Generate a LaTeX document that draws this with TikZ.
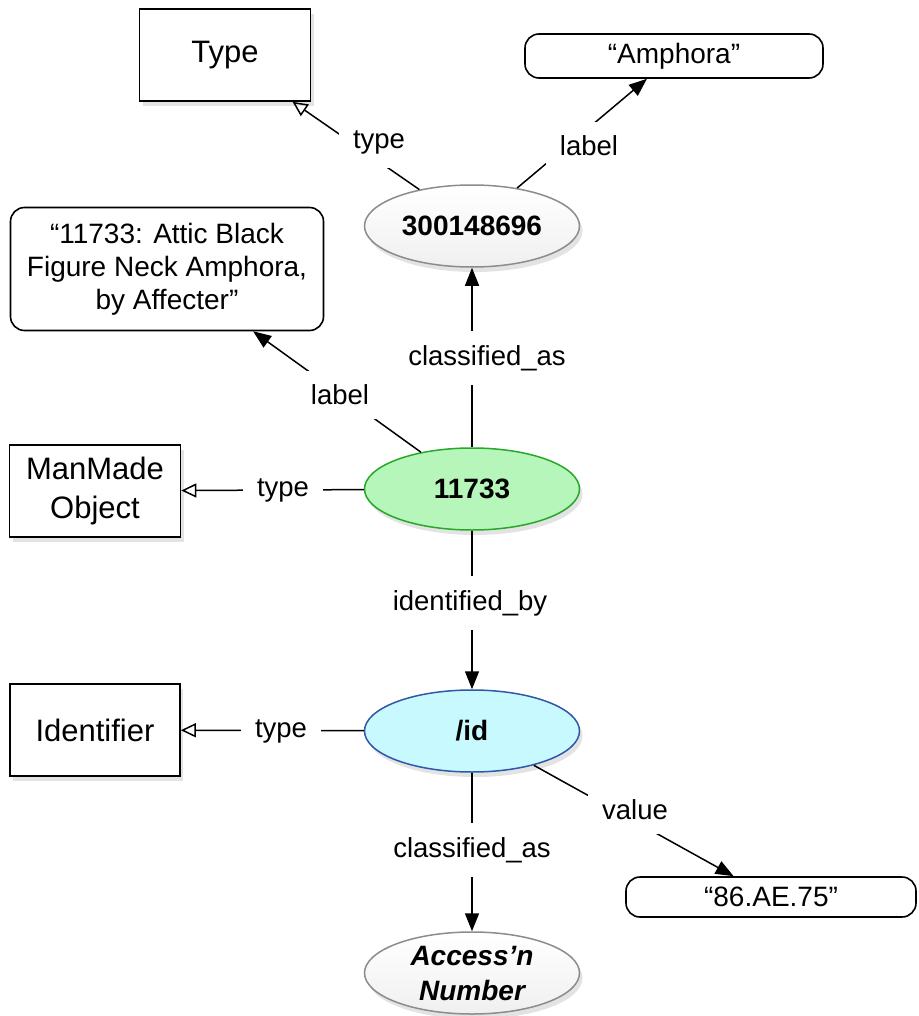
\documentclass[tikz,border=0pt]{standalone}
\usepackage{fontspec}
\setmainfont{Liberation Sans}
\usetikzlibrary{shapes.geometric,arrows.meta,shadows}
\definecolor{greenfill}{RGB}{182,246,186}
\definecolor{greenline}{RGB}{40,168,40}
\definecolor{cyanfill}{RGB}{200,249,255}
\definecolor{blueline}{RGB}{48,88,168}
\definecolor{grayline}{RGB}{140,140,140}
\begin{document}
\begin{tikzpicture}[x=1pt,y=-1pt,
  shad/.style={drop shadow={opacity=0.22, shadow xshift=3pt, shadow yshift=-5pt}},
  cls/.style={draw=black, line width=1.6pt, fill=white, shad, minimum width=171pt, minimum height=92pt, inner sep=0pt, align=center, font=\fontsize{31}{39}\selectfont},
  lit/.style={draw=black, line width=1.6pt, fill=white, rounded corners=14pt, inner sep=0pt, align=center, font=\fontsize{28}{33}\selectfont},
  res/.style={ellipse, minimum width=215pt, minimum height=82pt, inner sep=0pt, line width=1.5pt, align=center, shad, font=\bfseries\fontsize{28}{35}\selectfont},
  plainres/.style={res, draw=grayline, top color=white, bottom color=black!6},
  lbl/.style={fill=white, inner sep=14pt, font=\fontsize{27.5}{30}\selectfont},
  edge/.style={line width=1.5pt},
  arr/.style={edge, -{Triangle[length=18pt,width=14pt]}},
  tarr/.style={edge, -{Triangle[open,length=15pt,width=14pt,line width=1.5pt]}}
]
\useasboundingbox[fill=white] (0,0) rectangle (918,1016);

% nodes
\node[cls] (type) at (225,55) {Type};
\node[lit, minimum width=298pt, minimum height=44pt] (amph) at (674,56) {“Amphora”};
\node[plainres] (e300) at (472,226) {300148696};
\node[lit, minimum width=313pt, minimum height=123pt] (lbox) at (167,269) {“11733: Attic Black\\Figure Neck Amphora,\\by Affecter”};
\node[res, draw=greenline, fill=greenfill] (obj) at (472,489) {11733};
\node[cls, minimum width=171pt] (mmo) at (95,491) {ManMade\\Object};
\node[res, draw=blueline, fill=cyanfill] (id) at (472,731) {/id};
\node[cls, minimum width=170pt] (ident) at (95,730) {Identifier};
\node[lit, minimum width=290pt, minimum height=40pt] (val) at (771,897) {“86.AE.75”};
\node[plainres, font=\bfseries\itshape\fontsize{28}{35}\selectfont] (acc) at (472,973) {Access’n\\Number};

% edges
\draw[tarr] (e300) -- (type);
\draw[arr] (e300) -- (amph);
\draw[arr] (obj) -- (e300);
\draw[arr] (obj) -- (lbox);
\draw[tarr] (obj) -- (mmo);
\draw[arr] (obj) -- (id);
\draw[tarr] (id) -- (ident);
\draw[arr] (id) -- (val);
\draw[arr] (id) -- (acc);

% edge labels
\node[lbl] (l1) at (379,142) {type};
\node[lbl] (l2) at (589,146) {label};
\node[lbl] (l3) at (487,358) {classified\_as};
\node[lbl] (l4) at (340,395) {label};
\node[lbl] (l5) at (283,490) {type};
\node[lbl] (l6) at (470,603) {identified\_by};
\node[lbl] (l7) at (281,731) {type};
\node[lbl] (l8) at (635,810) {value};
\node[lbl] (l9) at (472,850) {classified\_as};
\end{tikzpicture}
\end{document}
